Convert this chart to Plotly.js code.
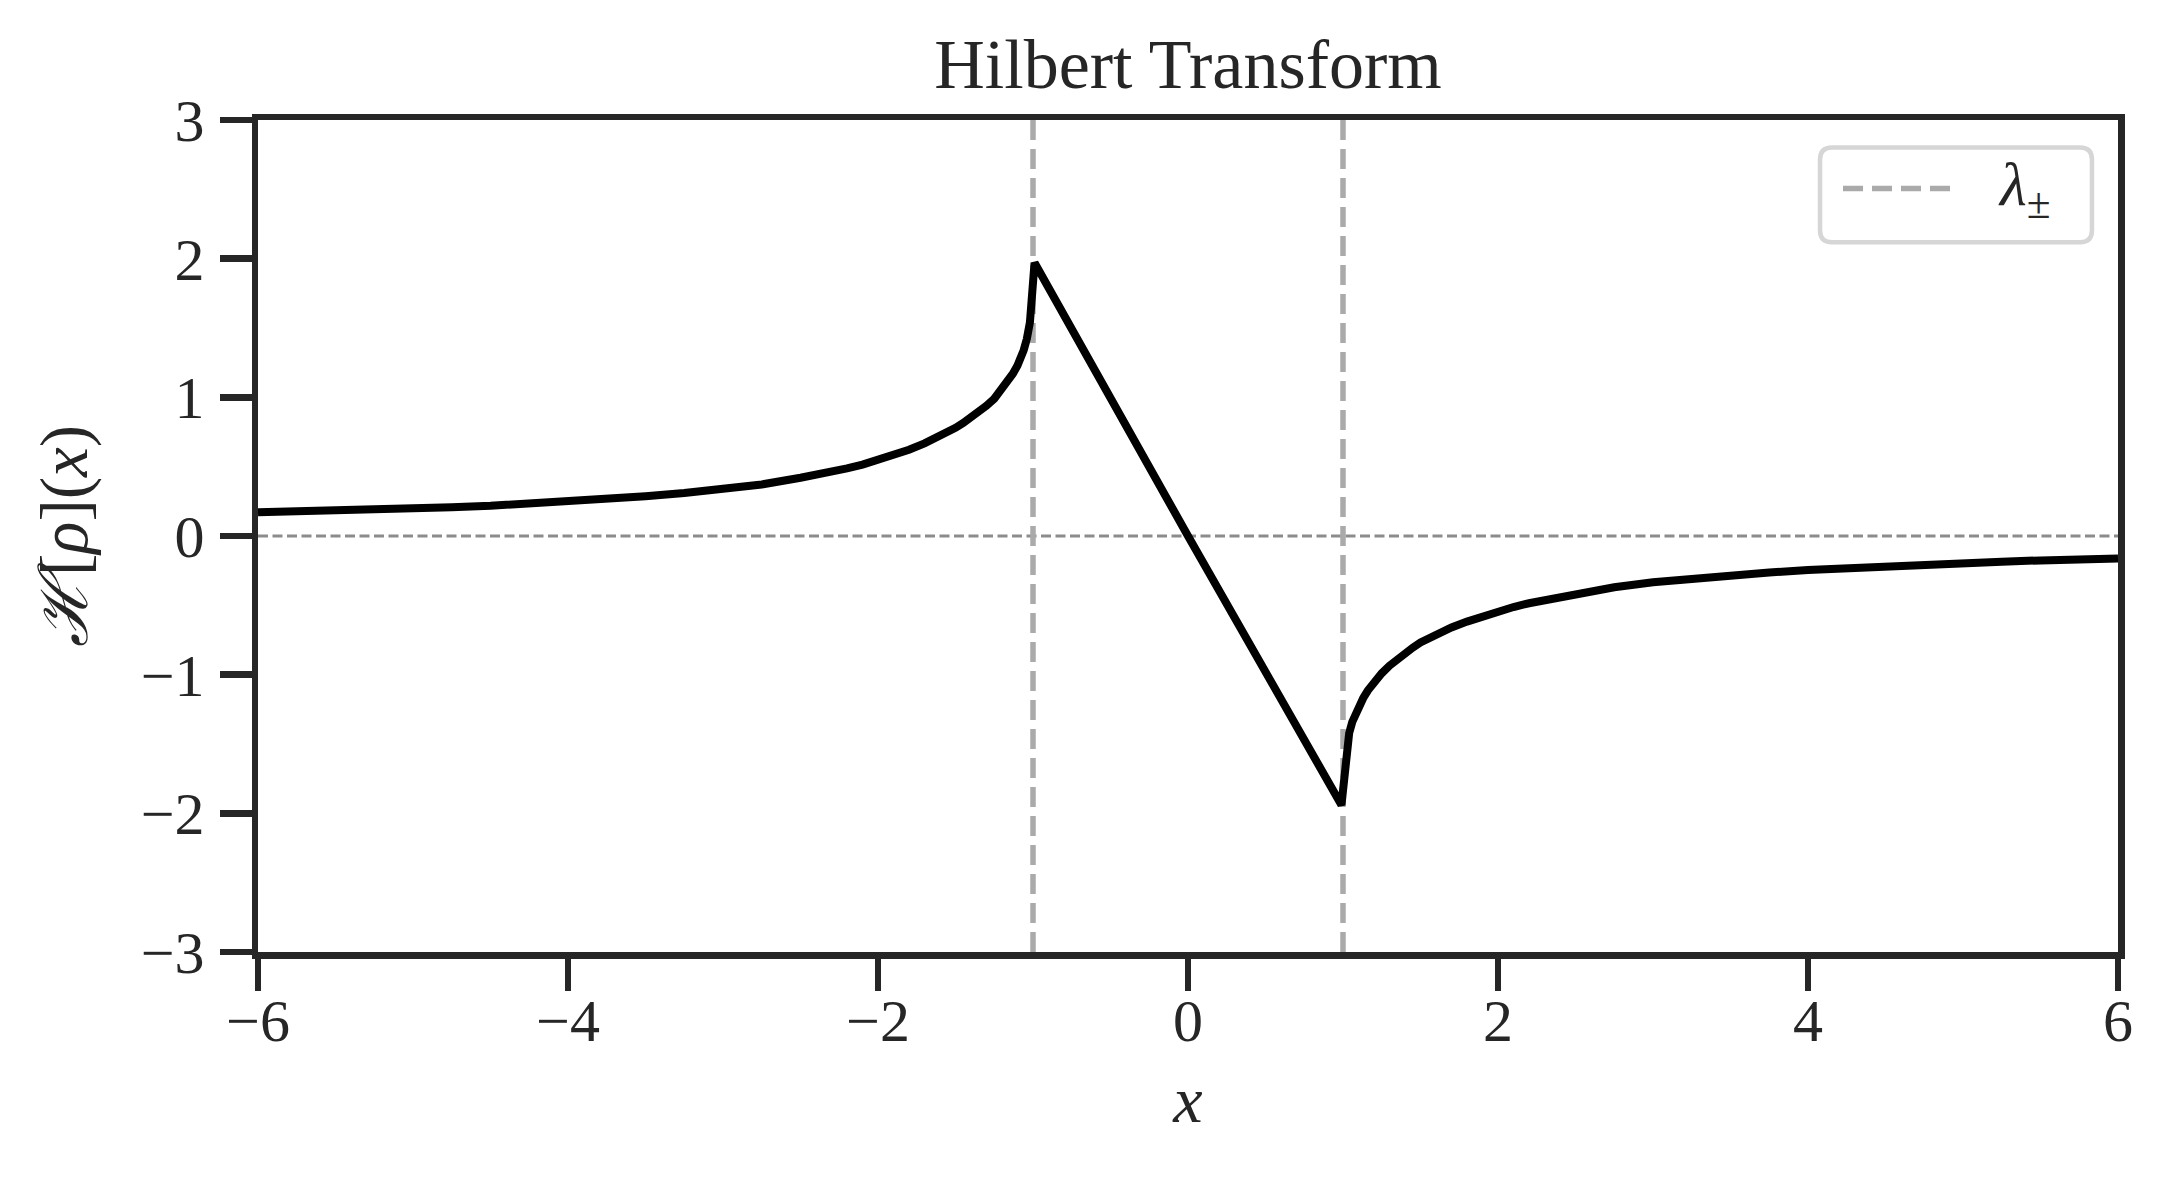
<!DOCTYPE html>
<html>
<head>
<meta charset="utf-8">
<script src="https://cdn.plot.ly/plotly-3.0.1.min.js"></script>
<style>html,body{margin:0;padding:0;background:#fff;}#chart{width:2174px;height:1179px;}</style>
</head>
<body>
<div id="chart"></div>
<script>
// Values
var xLeft = [-6, -5.75, -5.5, -5.25, -5, -4.75, -4.5, -4.25, -4, -3.75, -3.5, -3.25, -3, -2.75, -2.5, -2.35, -2.2, -2.1, -2, -1.9, -1.8, -1.7, -1.6, -1.55, -1.5, -1.45, -1.4, -1.35, -1.3, -1.25, -1.22, -1.19, -1.16, -1.13, -1.1, -1.08, -1.06, -1.04, -1.03, -1.02, -0.99];
var hLeft = [0.172, 0.177, 0.183, 0.19, 0.198, 0.207, 0.218, 0.232, 0.248, 0.265, 0.287, 0.31, 0.338, 0.372, 0.42, 0.45, 0.487, 0.515, 0.548, 0.582, 0.622, 0.668, 0.72, 0.748, 0.78, 0.815, 0.853, 0.893, 0.94, 0.99, 1.03, 1.07, 1.115, 1.17, 1.23, 1.28, 1.34, 1.42, 1.47, 1.54, 1.97];
var xMid = [0];
var hMid = [0.0];
var xRight = [0.99, 1.02, 1.03, 1.04, 1.06, 1.08, 1.1, 1.13, 1.16, 1.19, 1.22, 1.25, 1.3, 1.35, 1.4, 1.45, 1.5, 1.55, 1.6, 1.7, 1.8, 1.9, 2, 2.1, 2.2, 2.35, 2.5, 2.75, 3, 3.25, 3.5, 3.75, 4, 4.25, 4.5, 4.75, 5, 5.25, 5.5, 5.75, 6];
var hRight = [-1.94, -1.54, -1.47, -1.42, -1.34, -1.28, -1.23, -1.17, -1.115, -1.07, -1.03, -0.99, -0.935, -0.888, -0.845, -0.805, -0.768, -0.738, -0.71, -0.66, -0.617, -0.578, -0.543, -0.512, -0.485, -0.45, -0.418, -0.37, -0.334, -0.306, -0.283, -0.263, -0.246, -0.231, -0.217, -0.205, -0.195, -0.185, -0.176, -0.169, -0.163];
var lambdas = [-1, 1];
var referenceLevel = 0;
var xRange = [-6, 6];
var yRange = [-3, 3];
var xTicks = [-6, -4, -2, 0, 2, 4, 6];
var yTicks = [-3, -2, -1, 0, 1, 2, 3];
var titleText = "Hilbert Transform";
var xTitle = "<i>x</i>";
var yTitle = "<i>ℋ</i>[<i>ρ</i>](<i>x</i>)";
var legendLabel = "<i>λ</i><sub>±</sub>";

var xValues = xLeft.concat(xMid, xRight);
var hilbertValues = hLeft.concat(hMid, hRight);

var FONT = "'Liberation Serif', 'DejaVu Serif', serif";
var INK = "#262626";

// vertical dashed lines at the lambda positions
var lx = [], ly = [];
lambdas.forEach(function (l) { lx.push(l, l, null); ly.push(yRange[0], yRange[1], null); });

var traces = [
  {x: lx, y: ly, mode: "lines", name: "λ±", showlegend: false, hoverinfo: "skip",
   line: {color: "#aaaaaa", width: 5.5, dash: "20px,9px"}},
  {x: xValues, y: hilbertValues, mode: "lines", showlegend: false,
   line: {color: "#000000", width: 8}}
];

// legend drawn by hand: rounded box, dashed sample, label (paper coords)
var W = 1860, H = 832.5;
function rr(x0, y0, x1, y1, rpx) {
  var rx = rpx / W, ry = rpx / H;
  return "M" + (x0 + rx) + "," + y1 + " L" + (x1 - rx) + "," + y1 +
    " Q" + x1 + "," + y1 + " " + x1 + "," + (y1 - ry) +
    " L" + x1 + "," + (y0 + ry) +
    " Q" + x1 + "," + y0 + " " + (x1 - rx) + "," + y0 +
    " L" + (x0 + rx) + "," + y0 +
    " Q" + x0 + "," + y0 + " " + x0 + "," + (y0 + ry) +
    " L" + x0 + "," + (y1 - ry) +
    " Q" + x0 + "," + y1 + " " + (x0 + rx) + "," + y1 + " Z";
}
var lgX0 = 0.8398, lgX1 = 0.9860, lgY0 = 0.853, lgY1 = 0.967;

var layout = {
  width: 2174, height: 1179,
  margin: {l: 258, r: 56, t: 120, b: 227, pad: 0},
  paper_bgcolor: "#ffffff", plot_bgcolor: "#ffffff",
  showlegend: false,
  font: {family: FONT, color: INK, size: 60},
  title: {text: titleText, font: {family: FONT, size: 70, color: INK},
          x: 0.5, xref: "paper", y: 1 - 63 / 1179, yref: "container", yanchor: "middle"},
  xaxis: {range: xRange, tickvals: xTicks, ticks: "outside", ticklen: 32, tickwidth: 6.5, tickcolor: INK,
          showline: true, linewidth: 6.5, linecolor: INK, mirror: true, showgrid: false, zeroline: false,
          tickfont: {family: FONT, size: 60, color: INK}, ticklabelstandoff: -22,
          title: {text: xTitle, font: {family: FONT, size: 66, color: INK}, standoff: 26}},
  yaxis: {range: yRange, tickvals: yTicks, ticks: "outside", ticklen: 32, tickwidth: 6.5, tickcolor: INK,
          showline: true, linewidth: 6.5, linecolor: INK, mirror: true, showgrid: false, zeroline: false,
          tickfont: {family: FONT, size: 60, color: INK}, ticklabelstandoff: 3,
          title: {text: yTitle, font: {family: FONT, size: 67, color: INK}, standoff: 33}},
  shapes: [
    {type: "line", xref: "paper", yref: "y", x0: 0, x1: 1, y0: referenceLevel, y1: referenceLevel,
     line: {color: "#8c8c8c", width: 2.8, dash: "10px,4.5px"}, layer: "below"},
    {type: "path", xref: "paper", yref: "paper", path: rr(lgX0, lgY0, lgX1, lgY1, 12),
     fillcolor: "rgba(255,255,255,0.85)", line: {color: "#d6d6d6", width: 4.5}, layer: "above"},
    {type: "line", xref: "paper", yref: "paper", x0: (1843 - 258) / W, x1: (1952 - 258) / W,
     y0: (952 - 188) / H, y1: (952 - 188) / H, line: {color: "#aaaaaa", width: 5.5, dash: "20px,9px"}, layer: "above"}
  ],
  annotations: [
    {xref: "paper", yref: "paper", x: (1996 - 258) / W, y: (952 - 188) / H, xanchor: "left", yanchor: "middle",
     text: legendLabel, showarrow: false, font: {family: FONT, size: 62, color: INK}}
  ]
};

Plotly.newPlot("chart", traces, layout, {displayModeBar: false, staticPlot: true});
</script>
</body>
</html>
